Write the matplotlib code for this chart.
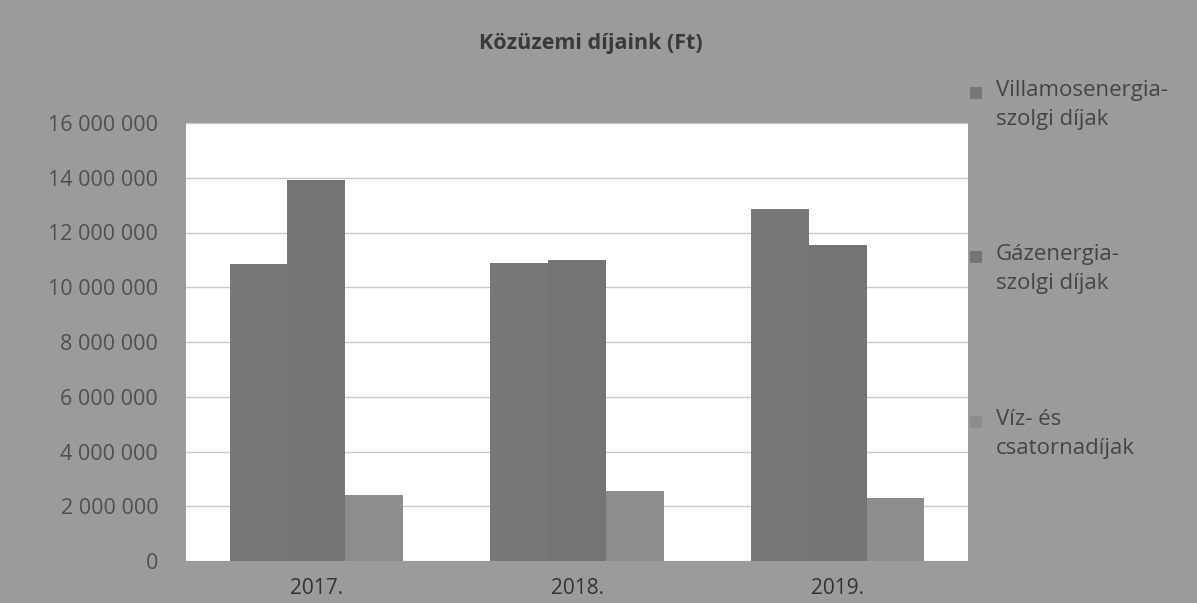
import matplotlib
matplotlib.use("Agg")
import matplotlib.pyplot as plt
import numpy as np
from matplotlib.patches import Rectangle
from matplotlib.ticker import FuncFormatter

years = ["2017.", "2018.", "2019."]
series_names = ["Villamosenergia-\nszolgi díjak", "Gázenergia-\nszolgi díjak", "Víz- és\ncsatornadíjak"]
villamos = [10850000, 10870000, 12870000]
gaz = [13900000, 10980000, 11530000]
viz = [2400000, 2550000, 2290000]
y_ticks = [0, 2000000, 4000000, 6000000, 8000000, 10000000, 12000000, 14000000, 16000000]

bg = "#9b9b9d"
bar_colors = ["#777778", "#747475", "#8d8d8e"]
text_col = "#454545"
font = "Open Sans"

W, H = 1197, 603
fig = plt.figure(figsize=(W / 100, H / 100), dpi=100)
fig.patch.set_facecolor(bg)

ax = fig.add_axes([186 / W, 1 - 561 / H, (968 - 186) / W, (561 - 123) / H])
ax.set_facecolor("white")

x = np.arange(len(years))
bw = 0.222
for i, vals in enumerate([villamos, gaz, viz]):
    ax.bar(x + (i - 1) * bw, vals, width=bw, color=bar_colors[i], zorder=3, linewidth=0)

ax.set_xlim(-0.5, 2.5)
ax.set_ylim(0, 16000000)
ax.set_yticks(y_ticks)
ax.yaxis.set_major_formatter(FuncFormatter(lambda v, p: f"{int(v):,}".replace(",", " ")))
ax.set_xticks(x)
ax.set_xticklabels(years)
ax.grid(axis="y", color="#cacaca", linewidth=1, zorder=0)
for s in ax.spines.values():
    s.set_visible(False)
ax.tick_params(axis="both", length=0)
ax.tick_params(axis="y", pad=20, labelsize=15.5, labelcolor="#505050")
ax.tick_params(axis="x", pad=12, labelsize=15, labelcolor="#333333")
for lbl in ax.get_yticklabels() + ax.get_xticklabels():
    lbl.set_fontfamily(font)

fig.text(591 / W, 1 - 44 / H, "Közüzemi díjaink (Ft)", ha="center", va="center",
         fontsize=15.5, fontweight="bold", color="#3a3a3a", family=font)

# legend (manual)
leg_y = [93, 257, 422]
for i, (name, yy) in enumerate(zip(series_names, leg_y)):
    fig.patches.append(Rectangle((970 / W, 1 - (yy + 6) / H), 12 / W, 12 / H,
                                 transform=fig.transFigure, facecolor=bar_colors[i],
                                 edgecolor="none"))
    fig.text(996 / W, 1 - (yy - 13) / H, name, ha="left", va="top", fontsize=16,
             color=text_col, family=font, linespacing=1.5)

fig.savefig("out.png", dpi=100, facecolor=bg)
